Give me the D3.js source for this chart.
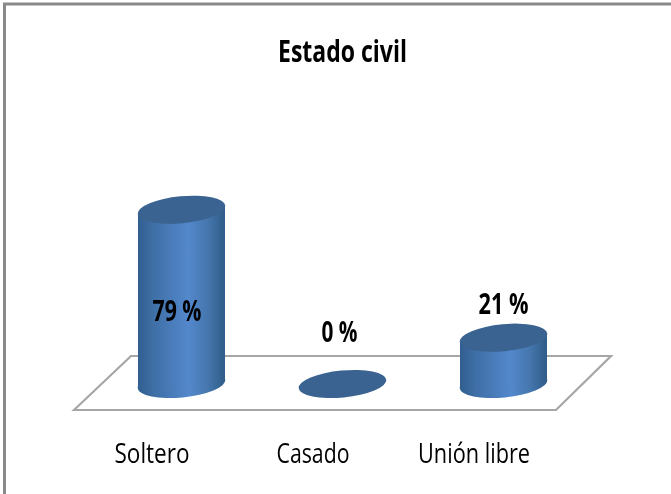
<!DOCTYPE html>
<html><head><meta charset="utf-8">
<script src="https://cdn.jsdelivr.net/npm/d3@7"></script>
<style>html,body{margin:0;padding:0;background:#fff}svg{display:block}</style>
</head><body><svg id="c" width="671" height="494"></svg>
<script>
const categories = ["Soltero","Casado","Unión libre"];
const values = [79,0,21];
const valueLabels = ["79 %","0 %","21 %"];
const title = "Estado civil";

const root = d3.select("#c");
const defs = root.append("defs");
defs.append("filter").attr("id","soft").attr("x",0).attr("y",0).attr("width","100%").attr("height","100%")
  .attr("filterUnits","userSpaceOnUse")
  .append("feGaussianBlur").attr("stdDeviation",0.45);
const svg = root.append("g").attr("filter","url(#soft)");
const font = "'Open Sans','Noto Sans',sans-serif";
const x = d3.scaleBand().domain(categories).range([101,584]);
const y = d3.scaleLinear().domain([0,100]).range([384,163.5]);
const rx = 44, ry = 13.5, tilt = -5.5;
const halfW = 43.5, dyEdge = 4.2;

// frame
svg.append("path").attr("d","M4.5,494V4H671").attr("fill","none").attr("stroke","#8a8a8a").attr("stroke-width",3);

// floor
svg.append("path").attr("d","M74,410L131,356H611L556,410Z").attr("fill","#fff").attr("stroke","#a6a6a6").attr("stroke-width",2.2);

// gradients
categories.forEach((c,i)=>{
  const cx = x(c)+x.bandwidth()/2;
  const g = defs.append("linearGradient").attr("id","g"+i).attr("gradientUnits","userSpaceOnUse")
    .attr("x1",cx-halfW).attr("x2",cx+halfW).attr("y1",0).attr("y2",0);
  [[0,"#315f90"],[0.18,"#3f6fa6"],[0.58,"#5388cc"],[0.8,"#4576ad"],[1,"#2f5c88"]].forEach(s=>
    g.append("stop").attr("offset",s[0]).attr("stop-color",s[1]));
});

// cylinders
const bars = svg.selectAll("g.bar").data(categories).join("g").attr("class","bar");
bars.each(function(c,i){
  const g = d3.select(this), cx = x(c)+x.bandwidth()/2, v = values[i];
  const yt = y(v), yb = y(0);
  if(v>0){
    g.append("ellipse").attr("cx",cx).attr("cy",yb).attr("rx",rx).attr("ry",ry)
      .attr("transform",`rotate(${tilt} ${cx} ${yb})`).attr("fill",`url(#g${i})`);
    g.append("path").attr("d",`M${cx-halfW},${yt+dyEdge}L${cx+halfW},${yt-dyEdge}V${yb-dyEdge}L${cx-halfW},${yb+dyEdge}Z`)
      .attr("fill",`url(#g${i})`);
  }
  g.append("ellipse").attr("cx",cx).attr("cy",yt).attr("rx",rx).attr("ry",ry)
    .attr("transform",`rotate(${tilt} ${cx} ${yt})`).attr("fill","#3b6491");
});

function label(t,cx,base,size,weight,len){
  svg.append("text").attr("x",cx).attr("y",base).attr("text-anchor","middle")
    .attr("font-family",font).attr("font-size",size).attr("font-weight",weight).attr("fill","#000")
    .attr("textLength",len).attr("lengthAdjust","spacingAndGlyphs").text(t);
}
// title
label(title,342.5,62,31,700,129);
// category labels
const catDx = -29.5, catLen = [75,73,112];
categories.forEach((c,i)=>label(c,x(c)+x.bandwidth()/2+catDx,463,28,400,catLen[i]));
// value labels
const valDx = [-4.5,-3,0], valBase = [321,342,314], valLen = [49,36,50];
valueLabels.forEach((t,i)=>label(t,x(categories[i])+x.bandwidth()/2+valDx[i],valBase[i],28,700,valLen[i]));
</script></body></html>
